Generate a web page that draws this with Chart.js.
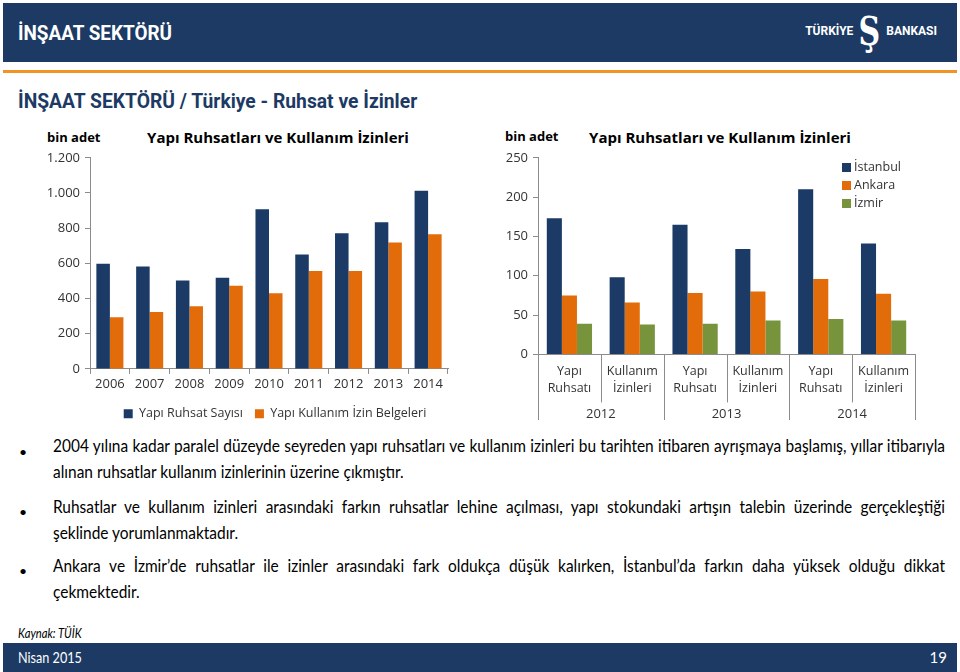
<!DOCTYPE html>
<html lang="tr">
<head>
<meta charset="utf-8">
<script src="https://cdn.jsdelivr.net/npm/chart.js@4.4.1/dist/chart.umd.min.js"></script>
<style>
body{margin:0;width:960px;height:672px;position:relative;background:#fff;font-family:"Open Sans",sans-serif;overflow:hidden;color:#000}
.abs{position:absolute}
.fit{white-space:nowrap;transform-origin:0 50%}
#top{left:3px;top:3px;width:954px;height:59px;background:#1c3a64}
#ttl{left:18px;top:21px;color:#fff;font:bold 20px Roboto,sans-serif}
#logo{right:23px;top:6px;color:#fff;font:bold 12px Roboto,sans-serif;display:flex;align-items:center}
#logo .s{font:bold 40px "DejaVu Serif",serif;margin:0 2px;line-height:50px;display:inline-block;transform:scaleX(0.75)}
#oline{left:3px;top:70px;width:954px;height:3px;background:#f29423}
#sub{left:18px;top:89px;color:#1c3a64;font:bold 20px Roboto,sans-serif}
.unit{font-weight:bold;font-size:13px;color:#000}
.ctitle{font-weight:bold;font-size:15px;color:#000;white-space:nowrap;transform:translateX(-50%)}
#leg2 div{font-size:12.5px;color:#333;height:18px;line-height:18px;display:flex;align-items:center}
#leg2 i{display:inline-block;width:9px;height:9px;margin-right:3px}
.txt{left:53px;font:17px Lato,sans-serif;color:#000;line-height:26px;transform-origin:0 0}
.txt .j{text-align:justify;text-align-last:justify;white-space:nowrap}
.txt span{white-space:nowrap}
.dot{left:19px;font:14px Lato,sans-serif}
#src{left:18px;top:625px;font:italic 13px Lato,sans-serif}
#foot{left:3px;top:643px;width:954px;height:29px;background:#1c3a64;color:#fff;font:15px Lato,sans-serif}
</style>
</head>
<body>
<div class="abs" id="top"></div>
<div class="abs fit" id="ttl" data-w="154">İNŞAAT SEKTÖRÜ</div>
<div class="abs" id="logo"><span>TÜRKİYE</span><span class="s">Ş</span><span>BANKASI</span></div>
<div class="abs" id="oline"></div>
<div class="abs fit" id="sub" data-w="399">İNŞAAT SEKTÖRÜ / Türkiye - Ruhsat ve İzinler</div>

<div class="abs unit" style="left:47px;top:128px">bin adet</div>
<div class="abs ctitle" style="left:278px;top:127px">Yapı Ruhsatları ve Kullanım İzinleri</div>
<div class="abs" style="left:30px;top:145px;width:490px;height:285px"><canvas id="c1" width="490" height="285"></canvas></div>

<div class="abs unit" style="left:505px;top:127px">bin adet</div>
<div class="abs ctitle" style="left:720px;top:127px">Yapı Ruhsatları ve Kullanım İzinleri</div>
<div class="abs" style="left:480px;top:145px;width:460px;height:285px"><canvas id="c2" width="460" height="285"></canvas></div>
<div class="abs" id="leg2" style="left:842px;top:158px"></div>

<div class="abs dot" style="top:443px">•</div>
<div class="abs txt" style="top:433px">
<div class="j">2004 yılına kadar paralel düzeyde seyreden yapı ruhsatları ve kullanım izinleri bu tarihten itibaren ayrışmaya başlamış, yıllar itibarıyla</div>
<div><span id="ref1">alınan ruhsatlar kullanım izinlerinin üzerine çıkmıştır.</span></div>
</div>
<div class="abs dot" style="top:503px">•</div>
<div class="abs txt" style="top:494px">
<div class="j">Ruhsatlar ve kullanım izinleri arasındaki farkın ruhsatlar lehine açılması, yapı stokundaki artışın talebin üzerinde gerçekleştiği</div>
<div>şeklinde yorumlanmaktadır.</div>
</div>
<div class="abs dot" style="top:562px">•</div>
<div class="abs txt" style="top:553px">
<div class="j">Ankara ve İzmir’de ruhsatlar ile izinler arasındaki fark oldukça düşük kalırken, İstanbul’da farkın daha yüksek olduğu dikkat</div>
<div>çekmektedir.</div>
</div>

<div class="abs fit" id="src" data-w="64">Kaynak: TÜİK</div>
<div class="abs" id="foot"><span class="abs fit" style="left:15px;top:5px" data-w="64">Nisan 2015</span><span class="abs" style="right:10px;top:5px">19</span></div>

<script>
// left chart: Türkiye
var years = ['2006', '2007', '2008', '2009', '2010', '2011', '2012', '2013', '2014'];
var ruhsatSayisi = [598, 582, 502, 518, 908, 651, 771, 834, 1013];
var kullanimIzni = [293, 324, 356, 472, 430, 556, 556, 718, 765];

// right chart: cities
var cityCats = [['Yapı', 'Ruhsatı'], ['Kullanım', 'İzinleri'], ['Yapı', 'Ruhsatı'], ['Kullanım', 'İzinleri'], ['Yapı', 'Ruhsatı'], ['Kullanım', 'İzinleri']];
var cityYears = ['2012', '2013', '2014'];
var istanbul = [173, 98, 165, 134, 210, 141];
var ankara = [75, 66, 78, 80, 96, 77];
var izmir = [39, 38, 39, 43, 45, 43];

var NAVY = '#1b3a66', ORANGE = '#e36c0a', GREEN = '#77933c', AXIS = '#8c8c8c', TXT = '#333';
Chart.defaults.font.family = "'Open Sans', sans-serif";

// squeeze the narrow slide texts to the widths they have on the slide
document.querySelectorAll('.fit').forEach(function(el) {
    el.style.transform = 'scaleX(' + (el.dataset.w / el.offsetWidth) + ')';
});
var sx = 351 / document.getElementById('ref1').offsetWidth;
document.querySelectorAll('.txt').forEach(function(el) {
    el.style.width = (892 / sx) + 'px';
    el.style.transform = 'scaleX(' + sx + ')';
});

function fmt(v) { return String(v).replace(/\B(?=(\d{3})+(?!\d))/g, '.'); }

new Chart(document.getElementById('c1'), {
    type: 'bar',
    data: {
        labels: years,
        datasets: [
            {label: 'Yapı Ruhsat Sayısı', data: ruhsatSayisi, backgroundColor: NAVY},
            {label: 'Yapı Kullanım İzin Belgeleri', data: kullanimIzni, backgroundColor: ORANGE}
        ]
    },
    options: {
        responsive: false,
        animation: false,
        layout: {padding: {top: 12, right: 0, left: 0, bottom: 0}},
        datasets: {bar: {categoryPercentage: 0.68, barPercentage: 1}},
        scales: {
            x: {
                grid: {drawOnChartArea: false, tickLength: 5, color: AXIS},
                border: {color: AXIS},
                ticks: {font: {size: 13}, color: TXT, padding: 3}
            },
            y: {
                min: 0, max: 1200,
                ticks: {stepSize: 200, callback: fmt, font: {size: 13}, color: TXT, padding: 5},
                grid: {drawOnChartArea: false, tickLength: 5, color: AXIS},
                border: {color: AXIS},
                afterFit: function(s) { s.width = 60; }
            },
            // empty right axis, keeps the plot narrower than the legend box
            pad: {
                type: 'linear', position: 'right', display: true,
                ticks: {display: false}, grid: {display: false}, border: {display: false},
                afterFit: function(s) { s.width = 72; }
            }
        },
        plugins: {
            legend: {
                position: 'bottom',
                labels: {boxWidth: 9, boxHeight: 9, font: {size: 12.5}, color: TXT, padding: 12}
            },
            tooltip: {enabled: false}
        }
    }
});

// separators under the two-level category axis
var groupLines = {
    id: 'groupLines',
    afterDraw: function(chart) {
        var x = chart.scales.x, x2 = chart.scales.x2, ctx = chart.ctx;
        var n = chart.data.labels.length, step = x.width / n;
        ctx.save();
        ctx.strokeStyle = AXIS;
        ctx.lineWidth = 1;
        for (var i = 0; i <= n; i++) {
            var px = Math.round(x.left + i * step) + 0.5;
            ctx.beginPath();
            ctx.moveTo(px, x.top);
            ctx.lineTo(px, i % 2 === 0 ? x2.bottom - 3 : x.bottom - 3);
            ctx.stroke();
        }
        ctx.restore();
    }
};

var cityNames = ['İstanbul', 'Ankara', 'İzmir'];
var cityColors = [NAVY, ORANGE, GREEN];
var citySeries = [istanbul, ankara, izmir];

new Chart(document.getElementById('c2'), {
    type: 'bar',
    data: {
        labels: cityCats,
        datasets: cityNames.map(function(n, i) {
            return {label: n, data: citySeries[i], backgroundColor: cityColors[i]};
        })
    },
    options: {
        responsive: false,
        animation: false,
        layout: {padding: {top: 6, right: 25, left: 0, bottom: 7}},
        datasets: {bar: {categoryPercentage: 0.72, barPercentage: 1}},
        scales: {
            x: {
                grid: {display: false, drawTicks: false},
                border: {color: AXIS},
                ticks: {font: {size: 12.5, lineHeight: 1.4}, color: TXT, padding: 8, autoSkip: false, maxRotation: 0}
            },
            x2: {
                type: 'category', labels: cityYears, position: 'bottom', offset: true,
                grid: {display: false, drawTicks: false}, border: {display: false},
                ticks: {font: {size: 13}, color: TXT, padding: 1}
            },
            y: {
                min: 0, max: 250,
                ticks: {stepSize: 50, font: {size: 13}, color: TXT, padding: 5},
                grid: {drawOnChartArea: false, tickLength: 5, color: AXIS},
                border: {color: AXIS},
                afterFit: function(s) { s.width = 58; }
            }
        },
        plugins: {legend: {display: false}, tooltip: {enabled: false}}
    },
    plugins: [groupLines]
});

// legend for the city chart, sits inside the plot area
var leg = document.getElementById('leg2');
cityNames.forEach(function(n, i) {
    var d = document.createElement('div');
    d.innerHTML = '<i style="background:' + cityColors[i] + '"></i>' + n;
    leg.appendChild(d);
});
</script>
</body>
</html>
